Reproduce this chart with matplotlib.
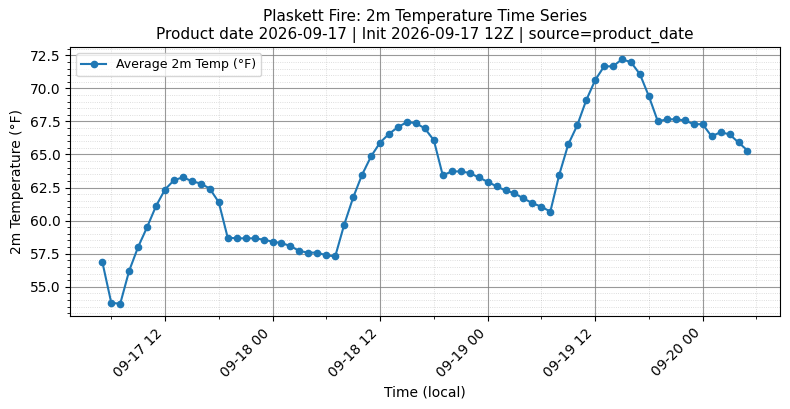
import numpy as np
import pandas as pd
import matplotlib
matplotlib.use('Agg')
import matplotlib.pyplot as plt
import matplotlib.dates as mdates
from matplotlib.ticker import AutoMinorLocator

# hourly times (local) and average 2m temperature (F)
start_time = '2026-09-17 05:00'
n_hours = 73
temps_f = [
    56.9, 53.8, 53.7, 56.2, 58.0, 59.5, 61.1, 62.35, 63.05, 63.28,
    62.98, 62.8, 62.42, 61.39, 58.71, 58.66, 58.66, 58.66, 58.56,
    58.41, 58.3, 58.08, 57.7, 57.58, 57.58, 57.37, 57.3, 59.7, 61.75,
    63.48, 64.86, 65.9, 66.56, 67.07, 67.45, 67.37, 66.97, 66.08, 63.42,
    63.72, 63.72, 63.6, 63.27,
    62.94, 62.59, 62.28, 62.06, 61.68, 61.32, 61.05, 60.68, 63.48, 65.76,
    67.2, 69.09, 70.62, 71.66, 71.67, 72.2, 71.98, 71.07, 69.4, 67.5,
    67.66, 67.66, 67.58, 67.29,
    67.29, 66.37, 66.69, 66.52, 65.91, 65.3,
]
times = pd.date_range(start_time, periods=n_hours, freq='h')

title = ('Plaskett Fire: 2m Temperature Time Series\n'
         'Product date 2026-09-17 | Init 2026-09-17 12Z | source=product_date')

fig, ax = plt.subplots(figsize=(7.9, 4.09), dpi=100)
ax.plot(times, temps_f, marker='o', markersize=4.5, linewidth=1.5,
        color='#1f77b4', label='Average 2m Temp (°F)')

ax.xaxis.set_major_locator(mdates.HourLocator(byhour=[0, 12]))
ax.xaxis.set_minor_locator(mdates.HourLocator(byhour=[6, 18]))
ax.xaxis.set_major_formatter(mdates.DateFormatter('%m-%d %H'))
ax.yaxis.set_minor_locator(AutoMinorLocator(5))

ax.grid(True, which='major', color='gray', alpha=0.8, linewidth=0.8)
ax.grid(True, which='minor', linestyle=':', color='gray', alpha=0.35, linewidth=0.6)

plt.setp(ax.get_xticklabels(), rotation=45, ha='right')
ax.set_title(title, fontsize=11)
ax.set_xlabel('Time (local)')
ax.set_ylabel('2m Temperature (°F)')
ax.legend(loc='upper left', fontsize=9)

fig.subplots_adjust(left=0.0886, right=0.987, top=0.885, bottom=0.227)
fig.savefig('out.png', dpi=100)
